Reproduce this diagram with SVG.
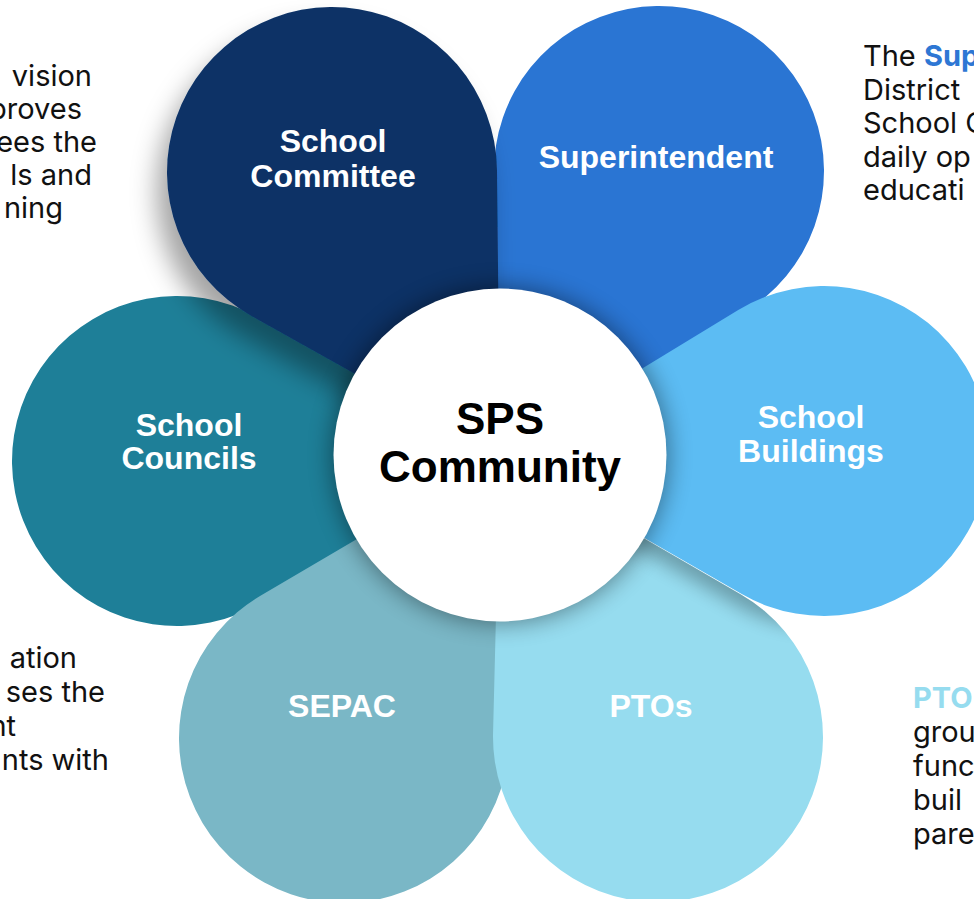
<svg xmlns="http://www.w3.org/2000/svg" width="974" height="899" viewBox="0 0 974 899">
  <style>
    .lbl { font-family: "Liberation Sans", Arial, sans-serif; font-weight: bold; font-size: 32px; fill: #ffffff; text-anchor: middle; }
    .ctr { font-family: "Liberation Sans", Arial, sans-serif; font-weight: bold; font-size: 44px; fill: #000000; text-anchor: middle; }
    .side { font-family: Inter, "Liberation Sans", sans-serif; font-size: 29px; fill: #111111; }
    .end { text-anchor: end; }
    .hl-sup { font-weight: bold; fill: #2e77d4; }
    .hl-pto { font-weight: bold; fill: #96dcef; }
  </style>
  <defs>
    <filter id="blurBig" x="-30%" y="-30%" width="160%" height="160%">
      <feGaussianBlur stdDeviation="12"/>
    </filter>
    <filter id="blurMid" x="-30%" y="-30%" width="160%" height="160%">
      <feGaussianBlur stdDeviation="9"/>
    </filter>
    <filter id="dropCommittee" x="-40%" y="-40%" width="180%" height="180%">
      <feDropShadow dx="-10" dy="20" stdDeviation="13" flood-color="#000000" flood-opacity="0.36"/>
    </filter>
    <clipPath id="clipPTOs">
      <path d="M500,455 L740.61,594.17 A165,165 0 1 1 493.05,732.88 Z"/>
    </clipPath>
  </defs>
  <rect width="974" height="899" fill="#ffffff"/>

  <g id="side-texts">
    <text class="side end" x="92" y="86">vision</text>
    <text class="side end" x="82" y="119">proves</text>
    <text class="side end" x="97" y="152">ees the</text>
    <text class="side end" x="92" y="185">ls and</text>
    <text class="side end" x="63" y="218">ning</text>

    <text class="side" x="863" y="66">The <tspan class="hl-sup">Sup</tspan></text>
    <text class="side" x="863" y="100">District</text>
    <text class="side" x="863" y="133">School C</text>
    <text class="side" x="863" y="167">daily op</text>
    <text class="side" x="863" y="200">educati</text>

    <text class="side end" x="77" y="668">ation</text>
    <text class="side end" x="105" y="702">ses the</text>
    <text class="side end" x="16" y="736">nt</text>
    <text class="side end" x="109" y="770">nts with</text>

    <text class="side hl-pto" x="913" y="708">PTO</text>
    <text class="side" x="913" y="742">grou</text>
    <text class="side" x="913" y="776">func</text>
    <text class="side" x="913" y="810">buil</text>
    <text class="side" x="913" y="844">pare</text>
  </g>

  <g id="school-councils">
    <path d="M500,455 L263.89,601.27 A165,165 0 1 1 258.62,317.60 Z" fill="#1e7f98"/>
    <text class="lbl" x="189" y="436">School</text>
    <text class="lbl" x="189" y="469">Councils</text>
  </g>
  <g id="sepac">
    <path d="M500,455 L508.92,732.71 A165,165 0 1 1 260.43,595.73 Z" fill="#7ab7c6"/>
    <text class="lbl" x="342" y="717">SEPAC</text>
  </g>
  <g id="ptos">
    <path d="M500,455 L740.61,594.17 A165,165 0 1 1 493.05,732.88 Z" fill="#96dcef"/>
    <g clip-path="url(#clipPTOs)">
      <path d="M500,455 L738.23,310.04 A165,165 0 1 1 741.74,594.03 Z" transform="translate(-4,12)" fill="#000000" opacity="0.28" filter="url(#blurMid)"/>
    </g>
    <text class="lbl" x="651" y="717">PTOs</text>
  </g>
  <g id="superintendent">
    <path d="M500,455 L494.04,174.51 A165,165 0 1 1 742.24,313.47 Z" fill="#2a75d3"/>
    <text class="lbl" x="656" y="168">Superintendent</text>
  </g>
  <g id="school-buildings">
    <path d="M500,455 L738.23,310.04 A165,165 0 1 1 741.74,594.03 Z" fill="#5cbcf3"/>
    <text class="lbl" x="811" y="428">School</text>
    <text class="lbl" x="811" y="462">Buildings</text>
  </g>
  <g id="school-committee">
    <path d="M500,455 L251.47,316.01 A165,165 0 1 1 496.99,170.26 Z" fill="#0c3366" filter="url(#dropCommittee)"/>
    <text class="lbl" x="333" y="152">School</text>
    <text class="lbl" x="333" y="187">Committee</text>
  </g>

  <g id="sps-community">
    <circle cx="500" cy="455" r="168" fill="#000000" opacity="0.42" filter="url(#blurBig)"/>
    <circle cx="500" cy="455" r="166.5" fill="#ffffff"/>
    <text class="ctr" x="500" y="434">SPS</text>
    <text class="ctr" x="500" y="482">Community</text>
  </g>
  <g id="connectors"/>
</svg>
